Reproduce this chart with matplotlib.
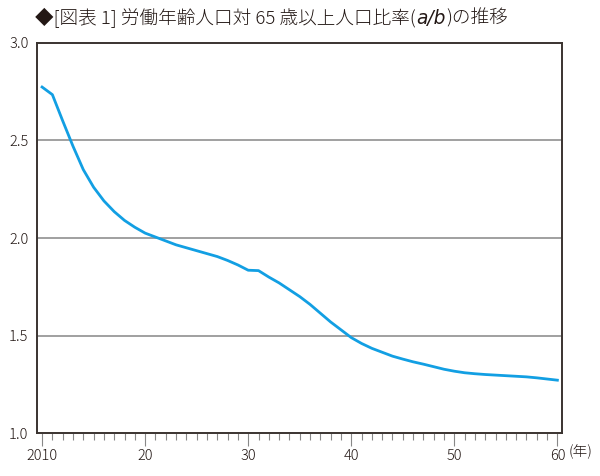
import matplotlib
matplotlib.use("Agg")
import matplotlib.pyplot as plt
from matplotlib.ticker import MultipleLocator
from matplotlib.transforms import offset_copy

plt.rcParams['font.family'] = ['Noto Sans CJK JP', 'DejaVu Sans']

years = list(range(2010, 2061))
ratio = [2.773, 2.734, 2.600, 2.470, 2.350, 2.260, 2.190, 2.135, 2.090, 2.055,
         2.025, 2.005, 1.985, 1.965, 1.950, 1.935, 1.920, 1.905, 1.885, 1.862,
         1.835, 1.833, 1.800, 1.770, 1.735, 1.700, 1.660, 1.615, 1.570, 1.530,
         1.490, 1.460, 1.435, 1.415, 1.395, 1.380, 1.366, 1.354, 1.341, 1.328,
         1.318, 1.310, 1.305, 1.301, 1.298, 1.295, 1.292, 1.289, 1.284, 1.278,
         1.272]
xtick_pos = [2010, 2020, 2030, 2040, 2050, 2060]
xtick_labels = ["2010", "20", "30", "40", "50", "60"]
ytick_pos = [1.0, 1.5, 2.0, 2.5, 3.0]
ytick_labels = ["1.0", "1.5", "2.0", "2.5", "3.0"]
title_parts = ["◆[図表 1] 労働年齢人口対 65 歳以上人口比率(", "a/b", ")の推移"]
unit_label = "(年)"

fig = plt.figure(figsize=(6.0, 4.76), dpi=100)
ax = fig.add_axes([0.0612, 0.0897, 0.8755, 0.8206])

for y in ytick_pos[1:-1]:
    ax.axhline(y, color='#999999', lw=1.3, zorder=1)

ax.plot(years, ratio, color='#129fe3', lw=2.0, zorder=3)

ax.set_xlim(2009.48, 2060.45)
ax.set_ylim(1.0, 3.0)

ax.set_xticks(xtick_pos)
ax.set_xticklabels(xtick_labels)
ax.xaxis.set_minor_locator(MultipleLocator(1))
ax.tick_params(axis='x', which='major', direction='out', length=9, width=0.8,
               color='#888888', labelsize=10.5, pad=2, labelcolor='#231815')
ax.tick_params(axis='x', which='minor', direction='out', length=5, width=0.8,
               color='#888888')
ax.set_yticks(ytick_pos)
ax.set_yticklabels(ytick_labels)
ax.tick_params(axis='y', which='major', length=0, labelsize=10.5, pad=6,
               labelcolor='#231815')
for lbl in ax.get_xticklabels() + ax.get_yticklabels():
    lbl.set_fontweight('light')

for s in ax.spines.values():
    s.set_color('#3a3330')
    s.set_linewidth(1.4)

# title drawn in pieces so that a/b can be italic
renderer = fig.canvas.get_renderer()
x0 = 0.058 * 600
ypos = 0.962
styles = [dict(fontweight='light'),
          dict(family=['DejaVu Sans'], style='italic'),
          dict(fontweight='light')]
cur = x0
for part, st in zip(title_parts, styles):
    t = fig.text(cur / 600, ypos, part, fontsize=13.4, color='#231815',
                 va='center', ha='left', **st)
    bb = t.get_window_extent(renderer=renderer)
    cur = bb.x1 + (1.0 if st.get('style') == 'italic' else 0.5)

fig.text(0.947, 0.0505, unit_label, fontsize=10.5, color='#231815', va='center',
         ha='left', fontweight='light')

fig.savefig("out.png", dpi=100)
